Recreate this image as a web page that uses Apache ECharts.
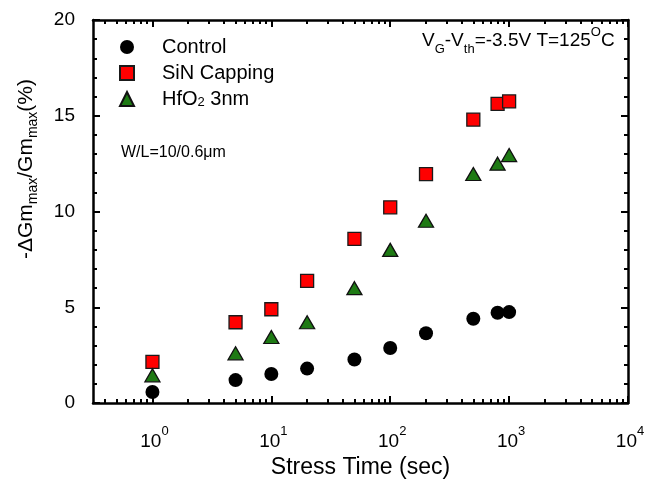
<!DOCTYPE html>
<html><head><meta charset="utf-8">
<script src="https://cdn.jsdelivr.net/npm/echarts@6/dist/echarts.min.js"></script>
<style>html,body{margin:0;padding:0;background:#fff}#chart{width:651px;height:484px}</style>
</head><body><div id="chart"></div>
<script>
// Transconductance degradation vs. stress time
const stressTime = [1, 5, 10, 20, 50, 100, 200, 500, 800, 1000];      // seconds
const controlVals = [0.58, 1.2, 1.52, 1.8, 2.28, 2.88, 3.65, 4.4, 4.72, 4.75];
const sinCapVals  = [2.15, 4.22, 4.9, 6.38, 8.57, 10.22, 11.95, 14.8, 15.62, 15.75];
const hfo2Vals    = [1.45, 2.6, 3.45, 4.22, 6.0, 8.0, 9.52, 11.96, 12.5, 12.95];
const seriesNames = ['Control', 'SiN Capping', 'HfO2 3nm'];
const xDecades = [0, 1, 2, 3, 4];          // labelled as 10^n
const xRange = [-0.5, 4];                  // log10(seconds)
const yRange = [0, 20];

const FONT = 'Liberation Sans, Arial, Helvetica, sans-serif';

// log-spaced minor tick positions (2..9 x 10^n) inside the axis range
const xMinor = [];
for (let n = -1; n <= 3; n++) {
  for (let k = 2; k <= 9; k++) {
    const v = Math.log10(k * Math.pow(10, n));
    if (v > xRange[0] && v < xRange[1]) xMinor.push(v);
  }
}

const toPts = vals => stressTime.map((t, i) => [Math.log10(t), vals[i]]);

const lineStyle = { color: '#000', width: 2.5 };
const tickLine = { color: '#000', width: 2 };

function xAxisDef(pos, ticks, len, withLine, withLabel) {
  return {
    type: 'value', position: pos, min: xRange[0], max: xRange[1],
    axisLine: { show: withLine, onZero: false, lineStyle: lineStyle },
    axisTick: { show: true, inside: true, length: len, lineStyle: tickLine, customValues: ticks },
    axisLabel: withLabel ? {
      show: true, customValues: xDecades, margin: 22,
      formatter: v => '{p|}{b|10}{s|' + Math.round(v) + '}',
      rich: {
        p: { width: 4 },
        b: { fontSize: 19, fontFamily: FONT, color: '#000', lineHeight: 26, verticalAlign: 'bottom' },
        s: { fontSize: 13, fontFamily: FONT, color: '#000', lineHeight: 14, verticalAlign: 'top' }
      }
    } : { show: false },
    splitLine: { show: false }
  };
}

function yAxisDef(pos, withLabel) {
  return {
    type: 'value', position: pos, min: yRange[0], max: yRange[1], interval: 5,
    axisLine: { show: true, onZero: false, lineStyle: lineStyle },
    axisTick: { show: true, inside: true, length: 7, lineStyle: tickLine },
    minorTick: { show: true, splitNumber: 5, length: 4, lineStyle: tickLine },
    axisLabel: withLabel ? { show: true, fontSize: 19, fontFamily: FONT, color: '#000', margin: 18, padding: [6, 0, 0, 0] } : { show: false },
    splitLine: { show: false }
  };
}

const xBottom = xAxisDef('bottom', xDecades, 7, true, true);
xBottom.name = 'Stress Time (sec)';
xBottom.nameLocation = 'middle';
xBottom.nameGap = 49;
xBottom.nameTextStyle = { fontSize: 23, fontFamily: FONT, color: '#000' };

const option = {
  backgroundColor: '#fff',
  animation: false,
  grid: { left: 93, top: 20, width: 535, height: 386.5 },
  xAxis: [
    xBottom,
    xAxisDef('bottom', xMinor, 4, false, false),
    xAxisDef('top', xDecades, 7, true, false),
    xAxisDef('top', xMinor, 4, false, false)
  ],
  yAxis: [yAxisDef('left', true), yAxisDef('right', false)],
  legend: {
    orient: 'vertical', left: 114, top: 32,
    itemWidth: 14, itemHeight: 14, itemGap: 6,
    data: seriesNames,
    formatter: name => name === 'HfO2 3nm' ? '{n|HfO}{s|2}{n| 3nm}' : '{n|' + name + '}',
    textStyle: {
      fontSize: 20, fontFamily: FONT, color: '#000', lineHeight: 20, padding: [0, 0, 0, 23],
      rich: {
        n: { fontSize: 20, fontFamily: FONT, color: '#000', lineHeight: 20, verticalAlign: 'bottom' },
        s: { fontSize: 13, fontFamily: FONT, color: '#000', lineHeight: 16, verticalAlign: 'bottom' }
      }
    }
  },
  series: [
    {
      name: seriesNames[0], type: 'scatter', symbol: 'circle', symbolSize: 14,
      itemStyle: { color: '#000', opacity: 1 }, data: toPts(controlVals), z: 3
    },
    {
      name: seriesNames[1], type: 'scatter', symbol: 'rect', symbolSize: 13,
      itemStyle: { color: '#ff0000', borderColor: '#1a1a1a', borderWidth: 1.3, opacity: 1 }, data: toPts(sinCapVals), z: 4
    },
    {
      name: seriesNames[2], type: 'scatter', symbol: 'triangle', symbolSize: [15, 13],
      itemStyle: { color: '#1e7a14', borderColor: '#111', borderWidth: 1.3, opacity: 1 }, data: toPts(hfo2Vals), z: 5
    }
  ],
  graphic: [
    {
      type: 'text', left: 422, top: 26,
      style: {
        text: '{m|V}{d|G}{m|-V}{d|th}{m|=-3.5V T=125}{u|O}{m|C}',
        rich: {
          m: { fontSize: 19, fontFamily: FONT, fill: '#000', lineHeight: 24, verticalAlign: 'bottom' },
          d: { fontSize: 13, fontFamily: FONT, fill: '#000', lineHeight: 16, verticalAlign: 'bottom', padding: [0, 0, -6, 0] },
          u: { fontSize: 13, fontFamily: FONT, fill: '#000', lineHeight: 14, verticalAlign: 'top' }
        }
      }
    },
    {
      type: 'text', left: 121, top: 145,
      style: { text: 'W/L=10/0.6\u03bcm', fontSize: 16, fontFamily: FONT, fill: '#000' }
    },
    {
      type: 'text', x: 28, y: 169, rotation: Math.PI / 2,
      style: {
        text: '{m|-\u0394Gm}{d|max}{m|/Gm}{d|max}{m|(%)}',
        align: 'center', verticalAlign: 'middle',
        rich: {
          m: { fontSize: 21, fontFamily: FONT, fill: '#000', lineHeight: 24, verticalAlign: 'top' },
          d: { fontSize: 14, fontFamily: FONT, fill: '#000', lineHeight: 19, verticalAlign: 'bottom' }
        }
      }
    }
  ]
};

const chart = echarts.init(document.getElementById('chart'), null, { renderer: 'canvas' });
chart.setOption(option);
</script>
</body></html>
